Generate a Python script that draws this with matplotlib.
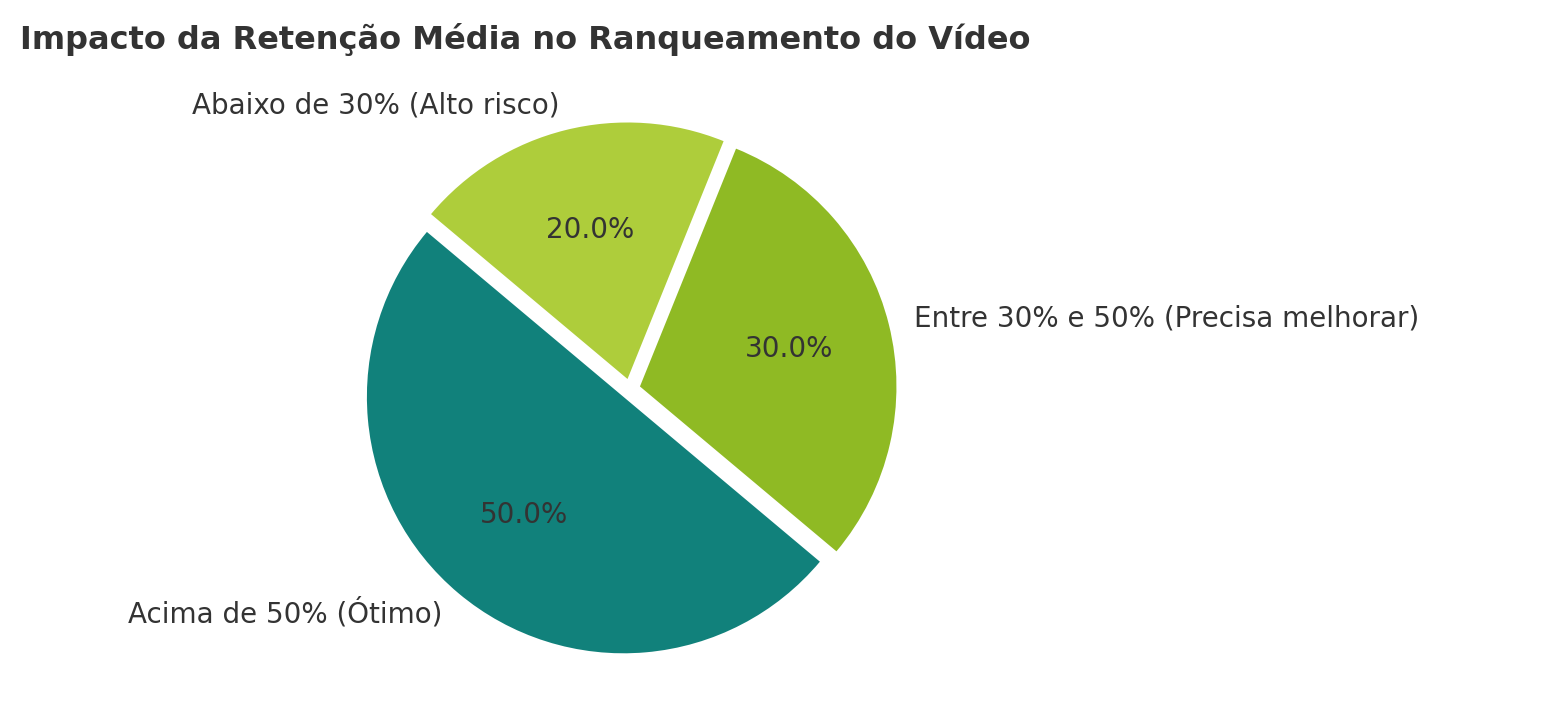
import matplotlib.pyplot as plt

plt.rcParams["font.family"] = ["DejaVu Sans"]

labels = ["Acima de 50% (Ótimo)", "Entre 30% e 50% (Precisa melhorar)", "Abaixo de 30% (Alto risco)"]
values = [50, 30, 20]
colors = ["#11817B", "#8FBA24", "#AECD3B"]
explode = [0.04, 0.04, 0.04]

fig = plt.figure(figsize=(15.46, 7.27), dpi=100)
ax = fig.add_axes([0.225, 0.075, 0.365, 0.78])
wedges, texts, autotexts = ax.pie(
    values, labels=labels, colors=colors, explode=explode,
    autopct="%1.1f%%", startangle=140,
    textprops={"fontsize": 20, "color": "#333333"},
)
ax.set_xlim(-1.1, 1.1)
ax.set_ylim(-1.1, 1.1)
ax.set_aspect("equal")
for t in texts + autotexts:
    t.set_clip_on(False)

fig.text(0.013, 0.945, "Impacto da Retenção Média no Ranqueamento do Vídeo",
         fontsize=23, fontweight="bold", color="#333333", va="center")
fig.savefig("out.png", dpi=100)
